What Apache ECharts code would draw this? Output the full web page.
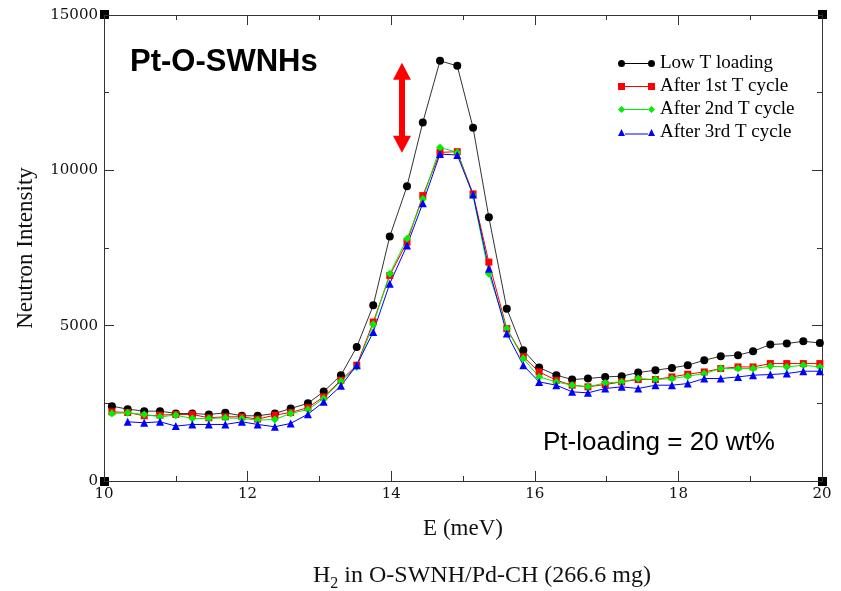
<!DOCTYPE html>
<html><head><meta charset="utf-8">
<script src="https://cdn.jsdelivr.net/npm/echarts@6/dist/echarts.min.js"></script>
<style>html,body{margin:0;padding:0;background:#fff}#c{width:841px;height:591px}</style>
</head><body><div id="c"></div>
<script>
// ---- data ----
const energy = [10.11,10.33,10.56,10.78,11.00,11.23,11.46,11.69,11.92,12.14,12.38,12.60,12.84,13.06,13.30,13.52,13.75,13.98,14.22,14.44,14.68,14.92,15.14,15.36,15.61,15.84,16.06,16.30,16.52,16.74,16.98,17.21,17.44,17.68,17.91,18.13,18.36,18.59,18.83,19.04,19.28,19.51,19.74,19.97];
const lowT   = [2409,2313,2249,2249,2174,2174,2142,2195,2099,2099,2174,2334,2500,2880,3405,4314,5654,7870,9486,11542,13524,13363,11372,8490,5547,4208,3650,3405,3266,3298,3351,3373,3491,3566,3640,3726,3887,4015,4048,4176,4391,4423,4497,4443];
const cycle1 = [2227,2206,2099,2120,2142,2142,2034,2066,2066,1992,2120,2206,2360,2709,3244,3726,5118,6617,7688,9187,10578,10600,9240,7046,4905,4000,3511,3244,3084,3030,3105,3190,3266,3266,3351,3437,3511,3619,3672,3672,3780,3780,3780,3780];
const cycle2 = [2174,2195,2142,2066,2120,2013,2013,2034,2013,1960,1981,2174,2300,2656,3212,3672,5043,6672,7796,9080,10739,10578,9187,6672,4905,3941,3351,3190,3084,3030,3158,3190,3298,3266,3298,3373,3459,3619,3619,3619,3694,3672,3726,3672];
const cycle3 = [null,1906,1874,1906,1767,1820,1820,1820,1906,1820,1746,1853,2150,2549,3062,3726,4796,6351,7581,8940,10525,10493,9219,6833,4744,3726,3190,3084,2870,2838,2977,3030,2977,3084,3084,3137,3298,3298,3351,3405,3427,3459,3534,3534];
const seriesNames = ['Low T loading','After 1st T cycle','After 2nd T cycle','After 3rd T cycle'];
const xRange = [10, 20];
const yRange = [0, 15000];
const arrowE = 14.15, arrowTop = 13190, arrowBottom = 10840;
const titleText = 'Pt-O-SWNHs';
const noteText = 'Pt-loading = 20 wt%';
const xName = 'E (meV)';
const yName = 'Neutron Intensity';

function pairs(ys){ return energy.map((x,i)=> ys[i]==null ? null : [x, ys[i]]).filter(p=>p); }

const serif = '"Liberation Serif", "Times New Roman", serif';
const tickFont = '"DejaVu Serif", serif';
const axisCol = '#333';

const icons = [
 'path://M0,4A3.5,3.5,0,1,1,7,4A3.5,3.5,0,1,1,0,4ZM7,3.5L30,3.5L30,4.5L7,4.5ZM30,4A3.5,3.5,0,1,1,37,4A3.5,3.5,0,1,1,30,4Z',
 'path://M0,0.5L7,0.5L7,7.5L0,7.5ZM7,3.5L30,3.5L30,4.5L7,4.5ZM30,0.5L37,0.5L37,7.5L30,7.5Z',
 'path://M0,4L3.5,0.5L7,4L3.5,7.5ZM7,3.5L30,3.5L30,4.5L7,4.5ZM30,4L33.5,0.5L37,4L33.5,7.5Z',
 'path://M0,7.5L3.5,0.5L7,7.5ZM7,5L30,5L30,6L7,6ZM30,7.5L33.5,0.5L37,7.5Z'
];

function baseAxis(extra){
  return Object.assign({
    type:'value',
    axisLine:{show:true, onZero:false, lineStyle:{color:axisCol, width:1}},
    axisTick:{show:true, inside:true, length:10, lineStyle:{color:axisCol}},
    minorTick:{show:true, splitNumber:2, length:5, lineStyle:{color:axisCol}},
    splitLine:{show:false}
  }, extra);
}

const chart = echarts.init(document.getElementById('c'), null, {renderer:'canvas'});
const grid = {left:104, right:19, top:15, bottom:110};
chart.setOption({
  animation:false,
  backgroundColor:'#fff',
  grid: grid,
  xAxis:[
    baseAxis({min:xRange[0], max:xRange[1], interval:2, position:'bottom',
      name:xName, nameLocation:'middle', nameGap:36,
      nameTextStyle:{fontFamily:serif, fontSize:23, color:'#111'},
      axisLabel:{margin:6, fontFamily:tickFont, fontSize:15, color:'#111', formatter:v=>String(v)}}),
    baseAxis({min:xRange[0], max:xRange[1], interval:2, position:'top', axisLabel:{show:false}})
  ],
  yAxis:[
    baseAxis({min:yRange[0], max:yRange[1], interval:5000, position:'left',
      name:yName, nameLocation:'middle', nameGap:67,
      nameTextStyle:{fontFamily:serif, fontSize:23, color:'#111'},
      axisLabel:{margin:6, fontFamily:tickFont, fontSize:15, color:'#111', formatter:v=>String(v)}}),
    baseAxis({min:yRange[0], max:yRange[1], interval:5000, position:'right', axisLabel:{show:false}})
  ],
  legend:{
    orient:'vertical', left:613, top:49, itemWidth:37, itemHeight:8, itemGap:4,
    itemStyle:{borderWidth:0},
    textStyle:{fontFamily:serif, fontSize:19, color:'#000'},
    data: seriesNames.map((n,i)=>({name:n, icon:icons[i]}))
  },
  series:[
    {name:seriesNames[0], type:'line', data:pairs(lowT), symbol:'circle', symbolSize:8,
     itemStyle:{color:'#000'}, lineStyle:{color:'#333', width:1},
     markLine:{silent:true, symbol:['triangle','triangle'], symbolSize:[18,17],
       lineStyle:{color:'#ff0000', width:6, type:'solid'}, itemStyle:{color:'#ff0000'},
       label:{show:false}, emphasis:{disabled:true},
       data:[[{coord:[arrowE, arrowTop]},{coord:[arrowE, arrowBottom]}]]}},
    {name:seriesNames[1], type:'line', data:pairs(cycle1), symbol:'rect', symbolSize:7,
     itemStyle:{color:'#ff0000'}, lineStyle:{color:'#ff0000', width:1}},
    {name:seriesNames[2], type:'line', data:pairs(cycle2), symbol:'diamond', symbolSize:8,
     itemStyle:{color:'#00f000'}, lineStyle:{color:'#00f000', width:1}},
    {name:seriesNames[3], type:'line', data:pairs(cycle3), symbol:'triangle', symbolSize:8,
     itemStyle:{color:'#0000ff'}, lineStyle:{color:'#0000ff', width:1}}
  ],
  graphic:[
    {type:'text', x:130, y:62, style:{text:titleText, font:'bold 31px "Liberation Sans", Arial, sans-serif', fill:'#000', textAlign:'left', textVerticalAlign:'middle'}},
    {type:'text', x:543, y:443, style:{text:noteText, font:'26px "Liberation Sans", Arial, sans-serif', fill:'#000', textAlign:'left', textVerticalAlign:'middle'}},
    {type:'text', x:313, y:564, style:{text:'{b|H}{s|2}{b| in O-SWNH/Pd-CH (266.6 mg)}', fill:'#111',
      rich:{b:{fontFamily:serif, fontSize:24, lineHeight:28, verticalAlign:'top', fill:'#111'},
            s:{fontFamily:serif, fontSize:16, lineHeight:14, verticalAlign:'bottom', fill:'#111'}}}},
    {type:'rect', shape:{x:100, y:10, width:9, height:9}, style:{fill:'#000'}},
    {type:'rect', shape:{x:818, y:10, width:9, height:9}, style:{fill:'#000'}},
    {type:'rect', shape:{x:100, y:477, width:9, height:9}, style:{fill:'#000'}},
    {type:'rect', shape:{x:818, y:477, width:9, height:9}, style:{fill:'#000'}}
  ]
});
</script></body></html>
